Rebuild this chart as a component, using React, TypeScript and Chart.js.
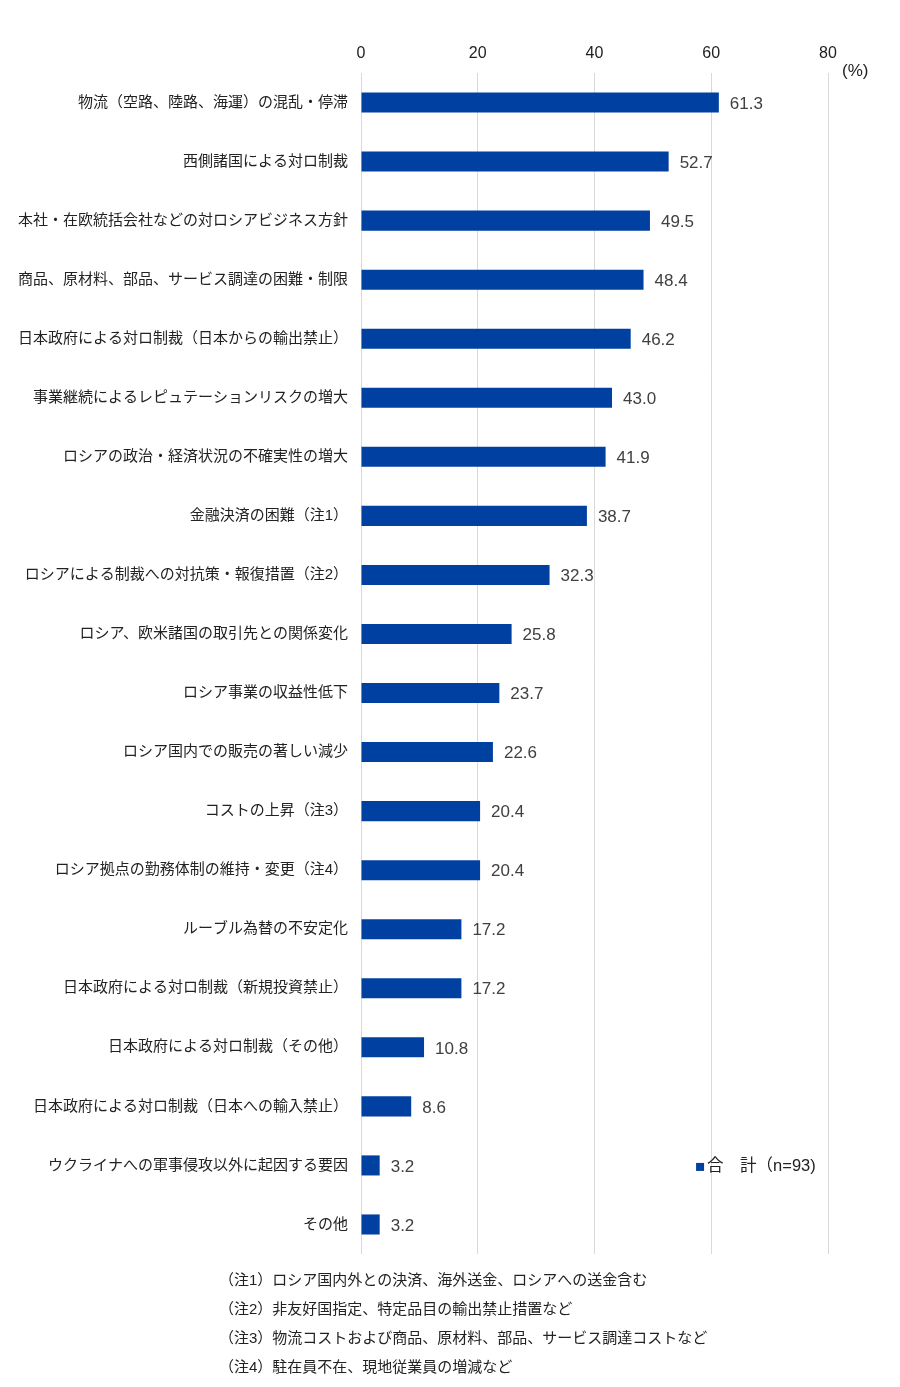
import React, { useEffect, useRef } from "react";
import { Chart, registerables } from "chart.js";

Chart.register(...registerables);

const categories: string[] = [
  "物流（空路、陸路、海運）の混乱・停滞",
  "西側諸国による対ロ制裁",
  "本社・在欧統括会社などの対ロシアビジネス方針",
  "商品、原材料、部品、サービス調達の困難・制限",
  "日本政府による対ロ制裁（日本からの輸出禁止）",
  "事業継続によるレピュテーションリスクの増大",
  "ロシアの政治・経済状況の不確実性の増大",
  "金融決済の困難（注1）",
  "ロシアによる制裁への対抗策・報復措置（注2）",
  "ロシア、欧米諸国の取引先との関係変化",
  "ロシア事業の収益性低下",
  "ロシア国内での販売の著しい減少",
  "コストの上昇（注3）",
  "ロシア拠点の勤務体制の維持・変更（注4）",
  "ルーブル為替の不安定化",
  "日本政府による対ロ制裁（新規投資禁止）",
  "日本政府による対ロ制裁（その他）",
  "日本政府による対ロ制裁（日本への輸入禁止）",
  "ウクライナへの軍事侵攻以外に起因する要因",
  "その他",
];

const totalValues: number[] = [
  61.3, 52.7, 49.5, 48.4, 46.2, 43.0, 41.9, 38.7, 32.3, 25.8, 23.7, 22.6, 20.4,
  20.4, 17.2, 17.2, 10.8, 8.6, 3.2, 3.2,
];

const seriesLabel = "合　計（n=93)";
const xTicks: number[] = [0, 20, 40, 60, 80];
const unitLabel = "(%)";
const notes: string[] = [
  "（注1）ロシア国内外との決済、海外送金、ロシアへの送金含む",
  "（注2）非友好国指定、特定品目の輸出禁止措置など",
  "（注3）物流コストおよび商品、原材料、部品、サービス調達コストなど",
  "（注4）駐在員不在、現地従業員の増減など",
];

const FONT = "'Liberation Sans', Arial, 'Noto Sans CJK JP', sans-serif";
const BAR_COLOR = "#0040a0";

export default function App() {
  const ref = useRef<HTMLCanvasElement | null>(null);

  useEffect(() => {
    if (!ref.current) return;
    const labelPlugin = {
      id: "extras",
      afterDatasetsDraw(chart: any) {
        const ctx = chart.ctx;
        const meta = chart.getDatasetMeta(0);
        ctx.save();
        ctx.font = `17px ${FONT}`;
        ctx.fillStyle = "#404040";
        ctx.textAlign = "left";
        ctx.textBaseline = "middle";
        meta.data.forEach((bar: any, i: number) => {
          ctx.fillText(totalValues[i].toFixed(1), bar.x + 11, bar.y + 1.5);
        });
        // unit label
        const xs = chart.scales.x;
        ctx.fillStyle = "#222";
        ctx.fillText(unitLabel, xs.getPixelForValue(80) + 14, 63);
        // legend inside plot
        const lx = xs.getPixelForValue(57.4);
        const ly = chart.scales.y.getPixelForValue(18) + 1.5;
        ctx.fillStyle = BAR_COLOR;
        ctx.fillRect(lx, ly - 4, 8, 8);
        ctx.font = `16.5px ${FONT}`;
        ctx.fillStyle = "#222";
        ctx.fillText(seriesLabel, lx + 11, ly);
        ctx.restore();
      },
    };
    const chart = new Chart(ref.current, {
      type: "bar",
      data: {
        labels: categories,
        datasets: [
          {
            label: seriesLabel,
            data: totalValues,
            backgroundColor: BAR_COLOR,
            barPercentage: 0.68,
            categoryPercentage: 0.5,
          },
        ],
      },
      options: {
        indexAxis: "y",
        animation: false,
        responsive: false,
        layout: { padding: { top: 33, right: 64, bottom: 13, left: 0 } },
        plugins: {
          legend: { display: false },
          tooltip: { enabled: false },
        },
        scales: {
          x: {
            position: "top",
            min: 0,
            max: 80,
            afterBuildTicks: (s: any) => {
              s.ticks = xTicks.map((v) => ({ value: v }));
            },
            afterFit: (s: any) => {
              s.height = 32;
            },
            grid: { color: "#d9d9d9", drawTicks: false },
            border: { display: false },
            ticks: {
              padding: 10,
              color: "#222",
              font: { family: FONT, size: 16 },
            },
          },
          y: {
            afterFit: (s: any) => {
              s.width = 353;
            },
            grid: { display: false },
            border: { display: false },
            ticks: {
              padding: 5,
              color: "#222",
              font: { family: FONT, size: 15 },
            },
          },
        },
      },
      plugins: [labelPlugin],
    });
    return () => chart.destroy();
  }, []);

  return (
    <div style={{ position: "relative", width: 884, height: 1370 }}>
      <canvas ref={ref} width={884} height={1260} style={{ display: "block" }} />
      <div
        style={{
          position: "absolute",
          left: 211,
          top: 1257,
          fontFamily: FONT,
          fontSize: 15,
          color: "#222",
          lineHeight: "29px",
        }}
      >
        {notes.map((n, i) => (
          <div key={i}>{n}</div>
        ))}
      </div>
    </div>
  );
}
